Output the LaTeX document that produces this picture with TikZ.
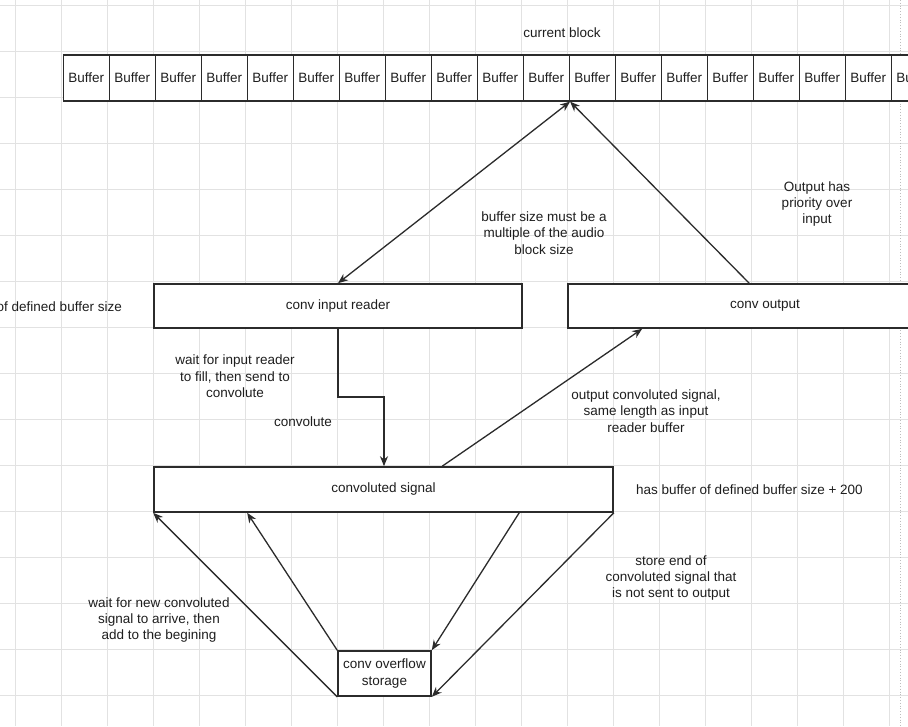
\documentclass[tikz,border=0pt]{standalone}
\usepackage{fontspec}
\setmainfont{Liberation Sans}
\usetikzlibrary{arrows.meta,calc}
\definecolor{ln}{HTML}{2B2B2B}
\definecolor{tx}{HTML}{1E1E1E}
\definecolor{gmaj}{HTML}{E2E2E2}
\definecolor{gdot}{HTML}{BDBDBD}
\begin{document}
\begin{tikzpicture}[x=1pt,y=-1pt,
  txt/.style={font=\fontsize{13.5}{16.4}\selectfont, text=tx},
  lbl/.style={txt, align=center, inner sep=0pt},
  box/.style={txt, draw=ln, line width=1.6pt, fill=white, inner sep=0pt, align=center},
  cell/.style={box, minimum width=46pt, minimum height=46pt, anchor=north west},
  conn/.style={draw=ln, line width=1.3pt},
  tip/.style={-{Stealth[length=10pt,width=8pt]}},
  tips/.style={{Stealth[length=10pt,width=8pt]}-{Stealth[length=10pt,width=8pt]}}
]
\useasboundingbox (0,0) rectangle (908,726);
\clip (0,0) rectangle (908,726);
\fill[white] (0,0) rectangle (908,726);
% background grid
\foreach \k in {0,...,19} \draw[gmaj, line width=0.8pt] ({15+46*\k},0) -- ({15+46*\k},726);
\foreach \k in {0,...,15} \draw[gmaj, line width=0.8pt] (0,{5+46*\k}) -- (908,{5+46*\k});
\draw[gdot, line width=0.8pt, dotted] (900,0) -- (900,726);

% buffer row
\foreach \k in {1,...,19}
  \node[cell] (b\k) at ({62.5+46*(\k-1)},54) {Buffer};
\node[lbl] (cur) at (562,33) {current block};

% boxes
\node[box, minimum width=368pt, minimum height=44pt] (inp) at (338,306) {conv input reader};
\node[box, minimum width=394pt, minimum height=44pt] (out) at (765,306) {conv output};
\node[box, minimum width=459pt, minimum height=45pt] (sig) at (383.5,489.5) {convoluted signal};
\node[box, minimum width=93pt, minimum height=45pt] (ov) at (384.5,673.5) {conv overflow\\storage};

% labels
\node[lbl, anchor=east] (lsize) at (122,307) {of defined buffer size};
\node[lbl] (lmult) at (544,233) {buffer size must be a\\multiple of the audio\\block size};
\node[lbl] (lprio) at (817,204) {Output has\\priority over\\input};
\node[lbl] (lwait) at (235,376.5) {wait for input reader\\to fill, then send to\\convolute};
\node[lbl] (lconv) at (303,421.5) {convolute};
\node[lbl] (lout) at (646,411) {output convoluted signal,\\same length as input\\reader buffer};
\node[lbl, anchor=west] (l200) at (636,490) {has buffer of defined buffer size + 200};
\node[lbl] (lstore) at (671,578) {store end of\\convoluted signal that\\is not sent to output};
\node[lbl] (lnew) at (159,620) {wait for new convoluted\\signal to arrive, then\\add to the begining};

% connectors
\coordinate (meet) at (b11.south east);
\draw[conn, tips] (inp.north) -- (meet);
\draw[conn, tip] ([xshift=182pt]out.north west) -- (meet);
\coordinate (k1) at (338,397);
\coordinate (k2) at (384,397);
\draw[conn, tip] (inp.south) -- (k1) -- (k2) -- (k2 |- sig.north);
\draw[conn, tip] ([xshift=289pt]sig.north west) -- ([xshift=75pt]out.south west);
\draw[conn, tip] (ov.north west) -- ([xshift=94pt]sig.south west);
\draw[conn, tip] (ov.south west) -- (sig.south west);
\draw[conn, tip] ([xshift=366pt]sig.south west) -- (ov.north east);
\draw[conn, tip] (sig.south east) -- (ov.south east);
\end{tikzpicture}
\end{document}
